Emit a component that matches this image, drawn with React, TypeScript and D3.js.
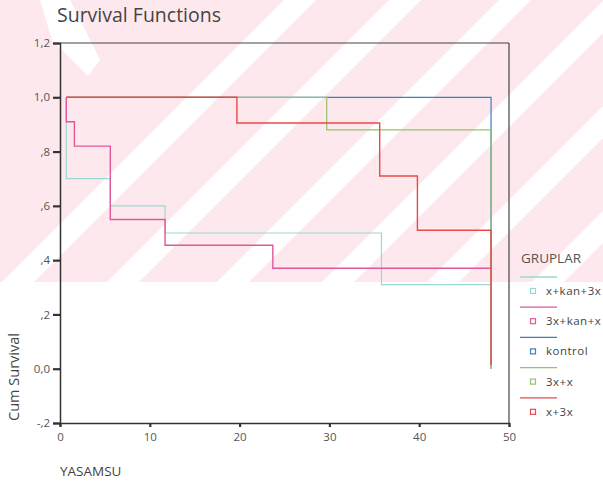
import React, { useEffect, useRef } from 'react';
import * as d3 from 'd3';

// groups, in legend (and drawing) order
const groups = ['x+kan+3x', '3x+kan+x', 'kontrol', '3x+x', 'x+3x'];
const colors = ['#9ad8d3', '#e2579b', '#3b7fc4', '#93c46a', '#ec4848'];

const startTime = 0.7;
const endTime = 48;

// event times and survival after each event
const cyanTimes = [0.7, 5.6, 11.7, 35.8];
const cyanSurv = [0.7, 0.6, 0.5, 0.31];
const pinkTimes = [0.7, 1.6, 5.6, 11.7, 23.7];
const pinkSurv = [0.91, 0.82, 0.55, 0.455, 0.37];
const blueTimes = [48];
const blueSurv = [0];
const greenTimes = [29.7, 48];
const greenSurv = [0.88, 0];
const redTimes = [19.7, 35.6, 39.8, 48];
const redSurv = [0.905, 0.71, 0.51, 0.015];

const allTimes = [cyanTimes, pinkTimes, blueTimes, greenTimes, redTimes];
const allSurv = [cyanSurv, pinkSurv, blueSurv, greenSurv, redSurv];

const yTicks = [1.2, 1.0, 0.8, 0.6, 0.4, 0.2, 0.0, -0.2];
const yTickLabels = ['1,2', '1,0', ',8', ',6', ',4', ',2', '0,0', '-,2'];
const xTicks = [0, 10, 20, 30, 40, 50];

// background watermark stripes (x + y of band centre)
const stripeCenters = [300, 405, 515, 620, 725, 830];

const App = () => {
  const svgRef = useRef<SVGSVGElement>(null);

  useEffect(() => {
    if (!svgRef.current) return;
    const svg = d3.select(svgRef.current);
    svg.selectAll('*').remove();

    const W = 603;
    const left = 60, right = 509, top = 43, bottom = 423;
    const font = '"Open Sans", "DejaVu Sans", sans-serif';

    // watermark
    const wm = svg.append('g');
    wm.append('clipPath').attr('id', 'wmclip')
      .append('rect').attr('x', 0).attr('y', 0).attr('width', W).attr('height', 282);
    const wmg = wm.append('g').attr('clip-path', 'url(#wmclip)');
    wmg.append('rect').attr('x', 0).attr('y', 0).attr('width', W).attr('height', 282).attr('fill', '#fde9ed');
    const half = 16;
    stripeCenters.forEach((c) => {
      const a = c - half, b = c + half;
      wmg.append('polygon')
        .attr('points', `${a},0 ${b},0 ${b - 400},400 ${a - 400},400`)
        .attr('fill', '#ffffff');
    });
    wmg.append('polygon')
      .attr('points', '40,0 70,0 100,60 88,76 52,40')
      .attr('fill', '#ffffff');

    const x = d3.scaleLinear().domain([0, 50]).range([left, right]);
    const y = d3.scaleLinear().domain([-0.2, 1.2]).range([bottom, top]);

    // frame
    svg.append('line').attr('x1', left).attr('x2', right).attr('y1', top).attr('y2', top)
      .attr('stroke', '#444').attr('stroke-width', 1.2);
    svg.append('line').attr('x1', right).attr('x2', right).attr('y1', top).attr('y2', bottom)
      .attr('stroke', '#444').attr('stroke-width', 1.2);

    // curves
    const line = d3.line<[number, number]>()
      .x((d) => x(d[0]))
      .y((d) => y(d[1]))
      .curve(d3.curveStepAfter);

    groups.forEach((g, i) => {
      const times = allTimes[i];
      const surv = allSurv[i];
      const pts: [number, number][] = [[startTime, 1]];
      times.forEach((t, j) => pts.push([t, surv[j]]));
      const last = times[times.length - 1];
      if (last < endTime) pts.push([endTime, surv[surv.length - 1]]);
      svg.append('path')
        .attr('d', line(pts))
        .attr('fill', 'none')
        .attr('stroke', colors[i])
        .attr('stroke-width', i === 4 || i === 1 ? 1.4 : 1.2);
    });

    // axes
    const yAxis = d3.axisLeft(y)
      .tickValues(yTicks)
      .tickFormat((d, i) => yTickLabels[i])
      .tickSize(7)
      .tickPadding(3);
    const yg = svg.append('g').attr('transform', `translate(${left},0)`).call(yAxis);
    yg.select('.domain').attr('stroke', '#333').attr('stroke-width', 1.5);
    yg.selectAll('.tick line').attr('stroke', '#333').attr('stroke-width', 2.2);
    yg.selectAll('text').attr('fill', '#555').style('font-family', font).style('font-size', '11.5px');

    const xAxis = d3.axisBottom(x)
      .tickValues(xTicks)
      .tickFormat(d3.format('d'))
      .tickSize(4)
      .tickPadding(6);
    const xg = svg.append('g').attr('transform', `translate(0,${bottom})`).call(xAxis);
    xg.select('.domain').attr('stroke', '#333').attr('stroke-width', 1.5);
    xg.selectAll('.tick line').attr('stroke', '#333').attr('stroke-width', 2.2);
    xg.selectAll('text').attr('fill', '#555').style('font-family', font).style('font-size', '11.5px');

    // titles
    svg.append('text').attr('x', 57).attr('y', 22)
      .attr('fill', '#444').style('font-family', font).style('font-size', '19.5px')
      .text('Survival Functions');
    svg.append('text').attr('x', 60).attr('y', 476)
      .attr('fill', '#444').style('font-family', font).style('font-size', '13.5px')
      .text('YASAMSU');
    svg.append('text')
      .attr('transform', 'translate(19,377) rotate(-90)')
      .attr('text-anchor', 'middle')
      .attr('fill', '#444').style('font-family', font).style('font-size', '14.5px')
      .text('Cum Survival');

    // legend
    const lg = svg.append('g');
    lg.append('text').attr('x', 521).attr('y', 263)
      .attr('fill', '#555').style('font-family', font).style('font-size', '13.5px')
      .text('GRUPLAR');
    groups.forEach((g, i) => {
      const cy = 291 + i * 30.2;
      lg.append('line').attr('x1', 520).attr('x2', 557).attr('y1', cy - 14).attr('y2', cy - 14)
        .attr('stroke', colors[i]).attr('stroke-width', 1.3);
      lg.append('rect').attr('x', 530.5).attr('y', cy - 2.5).attr('width', 5).attr('height', 5)
        .attr('fill', 'none').attr('stroke', colors[i]).attr('stroke-width', 1.2);
      lg.append('text').attr('x', 546).attr('y', cy + 4)
        .attr('fill', '#444').style('font-family', font).style('font-size', '11.5px')
        .style('letter-spacing', '0.5px')
        .text(g);
    });
  }, []);

  return (
    <svg ref={svgRef} width={603} height={486} style={{ display: 'block', position: 'absolute', left: 0, top: 0, background: '#fff' }}></svg>
  );
};

export default App;
